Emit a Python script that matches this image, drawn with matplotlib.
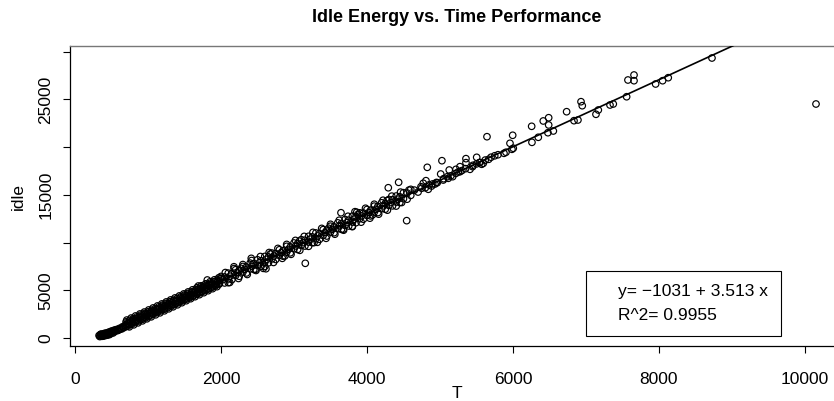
import matplotlib.pyplot as plt
from matplotlib.patches import Rectangle

plt.rcParams['font.family'] = ['Liberation Sans', 'DejaVu Sans']

# low-end cluster
low_T = [330, 345, 360, 375, 390, 405, 420, 435, 450, 465, 480, 500, 520, 540, 560, 585, 610, 640, 670, 700,
         350, 370, 390, 410, 430, 455, 480, 510, 540, 575, 610, 650, 690,
         340, 355, 370, 385, 400, 415, 430, 445, 460, 475, 490, 520, 560, 600, 630, 660]
low_idle = [260, 250, 330, 290, 380, 320, 430, 360, 500, 420, 560, 600, 660, 640, 760, 780, 900, 950, 1080, 1200,
            380, 180, 240, 470, 300, 560, 470, 740, 830, 900, 1010, 1170, 1330,
            150, 380, 400, 200, 470, 250, 520, 300, 600, 360, 690, 520, 840, 850, 1000, 1120]

# dense band 700 - 2000
band_T = [720, 760, 800, 840, 880, 920, 960, 1000, 1040, 1080, 1120, 1160, 1200, 1240, 1280, 1320, 1360,
          1400, 1440, 1480, 1520, 1560, 1600, 1640, 1680, 1720, 1760, 1800, 1840, 1880, 1920, 1960, 2000,
          740, 780, 820, 860, 900, 940, 980, 1020, 1060, 1100, 1140, 1180, 1220, 1260, 1300, 1340,
          1380, 1420, 1460, 1500, 1540, 1580, 1620, 1660, 1700, 1740, 1780, 1820, 1860, 1900, 1940, 1980,
          730, 810, 890, 970, 1050, 1130, 1210, 1290, 1370, 1450, 1530, 1610, 1690, 1770, 1850, 1930,
          700, 750, 800, 850, 900, 950, 1000, 1050, 1100, 1150, 1200, 1250, 1300, 1350, 1400, 1450,
          1500, 1550, 1600, 1650, 1700, 1750, 1800, 1850, 1900, 1950, 2000,
          725, 775, 825, 875, 925, 975, 1025, 1075, 1125, 1175, 1225, 1275, 1325, 1375, 1425, 1475,
          1525, 1575, 1625, 1675, 1725, 1775, 1825, 1875, 1925, 1975,
          710, 770, 830, 890, 950, 1010, 1070, 1130, 1190, 1250, 1310, 1370, 1430, 1490, 1550, 1610,
          1670, 1730, 1790, 1850, 1910, 1970,
          745, 805, 865, 925, 985, 1045, 1105, 1165, 1225, 1285, 1345, 1405, 1465, 1525, 1585, 1645,
          1705, 1765, 1825, 1885, 1945]
band_idle = [1620, 1700, 1930, 2010, 2200, 2290, 2480, 2570, 2760, 2850, 3050, 3120, 3330, 3400, 3610, 3680, 3900,
             3960, 4180, 4240, 4470, 4520, 4760, 4800, 5050, 5080, 5330, 5370, 5600, 5640, 5900, 5930, 6200,
             1430, 1560, 1720, 1850, 1990, 2100, 2270, 2400, 2540, 2700, 2820, 2980, 3100, 3260, 3380, 3530,
             3650, 3800, 3930, 4060, 4210, 4340, 4490, 4620, 4760, 4900, 5040, 5180, 5330, 5460, 5600, 5740,
             1540, 1800, 2110, 2370, 2680, 2930, 3240, 3490, 3800, 4050, 4370, 4610, 4930, 5170, 5500, 5740,
             1690, 1860, 2040, 2210, 2390, 2570, 2740, 2920, 3090, 3270, 3440, 3620, 3800, 3970, 4150, 4320,
             4500, 4670, 4850, 5030, 5200, 5380, 5550, 5730, 5900, 6080, 6260,
             1260, 1430, 1610, 1780, 1960, 2130, 2310, 2490, 2660, 2840, 3010, 3190, 3360, 3540, 3710, 3890,
             4070, 4240, 4420, 4590, 4770, 4950, 5120, 5300, 5470, 5650,
             1880, 2090, 2310, 2520, 2720, 2940, 3150, 3360, 3570, 3780, 3990, 4200, 4410, 4620, 4830, 5050,
             5260, 5470, 5680, 5890, 6100, 6310,
             1170, 1380, 1590, 1800, 2010, 2220, 2430, 2640, 2850, 3060, 3270, 3480, 3700, 3910, 4120, 4330,
             4540, 4750, 4960, 5170, 5380]

# band 2000 - 4700
mid_T = [2050, 2150, 2250, 2350, 2450, 2550, 2650, 2750, 2850, 2950, 3050, 3150, 3250, 3350, 3450, 3550,
         3650, 3750, 3850, 3950, 4050, 4150, 4250, 4350, 4450, 4550, 4650,
         2100, 2200, 2300, 2400, 2500, 2600, 2700, 2800, 2900, 3000, 3100, 3200, 3300, 3400, 3500, 3600,
         3700, 3800, 3900, 4000, 4100, 4200, 4300, 4400, 4500, 4600, 4700,
         2025, 2125, 2225, 2325, 2425, 2525, 2625, 2725, 2825, 2925, 3025, 3125, 3225, 3325, 3425, 3525,
         3625, 3725, 3825, 3925, 4025, 4125, 4225, 4325, 4425,
         2275, 2675, 3075, 3475, 3875, 4275, 4575,
         2475, 2875, 3275, 3675, 4075, 4475,
         2000, 2100, 2200, 2300, 2400, 2500, 2600, 2700, 2800, 2900, 3000, 3100, 3200, 3300, 3400, 3500,
         3600, 3700, 3800, 3900, 4000, 4100, 4200, 4300, 4400, 4500, 4600,
         2050, 2150, 2250, 2350, 2450, 2550, 2650, 2750, 2850, 2950, 3050, 3150, 3250, 3350, 3450, 3550,
         3650, 3750, 3850, 3950, 4050, 4150, 4250, 4350, 4450, 4550,
         2060, 2180, 2300, 2420, 2540, 2660, 2780, 2900, 3020, 3140, 3260, 3380, 3500, 3620, 3740, 3860,
         3980, 4100, 4220, 4340, 4460,
         2120, 2240, 2360, 2480, 2600, 2720, 2840, 2960, 3080, 3200, 3320, 3440, 3560, 3680, 3800, 3920,
         4040, 4160, 4280, 4400]
mid_idle = [6400, 6750, 7050, 7450, 7800, 8100, 8500, 8850, 9150, 9550, 9900, 10250, 10600, 10950, 11300, 11650,
            12000, 12350, 12700, 13100, 13400, 13800, 14100, 14500, 14800, 15200, 15500,
            6200, 6550, 6900, 7250, 7600, 7950, 8300, 8650, 9000, 9350, 9700, 10050, 10400, 10750, 11100, 11450,
            11800, 12150, 12500, 12850, 13200, 13550, 13900, 14250, 14600, 14950, 15300,
            6130, 6480, 6830, 7190, 7530, 7890, 8240, 8600, 8940, 9300, 9650, 10000, 10350, 10700, 11050, 11400,
            11760, 12100, 12450, 12800, 13150, 13500, 13850, 14200, 14550,
            7300, 8800, 10150, 11500, 12950, 14400, 15500,
            7200, 8600, 10000, 11400, 12900, 14200,
            6450, 6800, 7150, 7500, 7850, 8200, 8550, 8900, 9250, 9610, 9960, 10310, 10660, 11010, 11360, 11720,
            12070, 12420, 12770, 13120, 13470, 13820, 14170, 14520, 14880, 15230, 15580,
            5770, 6120, 6470, 6820, 7180, 7530, 7880, 8230, 8580, 8930, 9280, 9640, 9990, 10340, 10690, 11040,
            11390, 11740, 12090, 12450, 12800, 13150, 13500, 13850, 14200, 14550,
            6860, 7280, 7700, 8120, 8540, 8960, 9390, 9810, 10230, 10650, 11070, 11490, 11920, 12340, 12760, 13180,
            13600, 14020, 14440, 14870, 15290,
            5820, 6240, 6660, 7080, 7500, 7920, 8350, 8770, 9190, 9610, 10030, 10450, 10880, 11300, 11720, 12140,
            12560, 12980, 13400, 13830]

# scattered points off the band
off_T = [1690, 1813, 2100, 2178, 2415, 2616, 2580, 3155, 3644, 3836, 3799, 4434, 4292, 4544]
off_idle = [5450, 6080, 5800, 7470, 8350, 7260, 7300, 7830, 13130, 13240, 11670, 16320, 15750, 12300]

# upper range 4700 - 10200
high_T = [4740, 4771, 4808, 4826, 4840, 4886, 4932, 4963, 5010, 5027, 5045, 5114, 5127, 5174,
          5219, 5219, 5274, 5274, 5356, 5356, 5411, 5447, 5503, 5538, 5571, 5593, 5644, 5667,
          5795, 5877, 5904, 5959, 5986, 5996, 6004, 6256, 6260, 6347, 6415, 6479, 6489, 6489, 6553,
          6735, 6836, 6890, 6932, 6949, 7137, 7169, 7329, 7374, 7557, 7575, 7658, 7658,
          7954, 8050, 8127, 8726, 10151,
          4750, 4800, 4850, 4900, 4950, 5050, 5100, 5150, 5250, 5300, 5350, 5450, 5500, 5550,
          5620, 5700, 5750]
high_idle = [15860, 16220, 16490, 17890, 15590, 15930, 16140, 16280, 17190, 18585, 16560, 16740, 17610, 16910,
             17680, 17260, 17960, 17430, 18800, 18380, 17680, 17960, 18940, 18380, 18210, 18310, 21100, 18730,
             19210, 19360, 19470, 20410, 19780, 21250, 19890, 22190, 20510, 21040, 22750, 21520, 22330, 23090, 21700,
             23720, 22780, 22850, 24770, 24350, 23450, 23900, 24423, 24528, 25290, 27044, 27568, 26970,
             26625, 26970, 27285, 29350, 24528,
             15700, 15750, 16050, 16150, 16300, 16700, 16900, 17000, 17400, 17550, 17750, 18100, 18250, 18400,
             18650, 18950, 19100]

T = low_T + band_T + mid_T + off_T + high_T
idle = low_idle + band_idle + mid_idle + off_idle + high_idle

# fit
intercept = -1031
slope = 3.513
r2 = 0.9955

fig = plt.figure(figsize=(8.34, 4.01), dpi=100)
ax = fig.add_axes([70 / 834, 1 - 346 / 401, 776 / 834, 300 / 401])

ax.scatter(T, idle, s=22, facecolors='none', edgecolors='black', linewidths=0.85, zorder=2)
# fitted line over the range of T
x_fit = [min(T), max(T)]
ax.plot(x_fit, [intercept + slope * v for v in x_fit], color='black', lw=1.2, zorder=3)

ax.set_xlim(-68, 10562)
ax.set_ylim(-839, 30608)

ax.set_xticks([0, 2000, 4000, 6000, 8000, 10000])
ax.set_yticks([0, 5000, 10000, 15000, 20000, 25000, 30000])
ax.set_yticklabels(['0', '5000', '', '15000', '', '25000', ''], rotation=90, va='center')
ax.tick_params(axis='both', length=5, width=0.8, labelsize=12.5)
ax.tick_params(axis='x', pad=14)
ax.tick_params(axis='y', pad=7)

for side in ['left', 'bottom']:
    ax.spines[side].set_linewidth(0.9)
ax.spines['top'].set_color('#777777')
ax.spines['top'].set_linewidth(1.0)
ax.spines['right'].set_visible(False)

# legend box with fit text
ax.add_patch(Rectangle((0.6646, 0.0333), 0.2516, 0.2157, transform=ax.transAxes,
                       facecolor='white', edgecolor='black', lw=0.8, zorder=4))
ax.text(0.7062, 0.181, f'y= \u22121031 + {slope} x', transform=ax.transAxes,
        fontsize=12.5, va='center', ha='left', zorder=5)
ax.text(0.7062, 0.103, f'R^2= {r2}', transform=ax.transAxes,
        fontsize=12.5, va='center', ha='left', zorder=5)

fig.text(457 / 834, 1 - 18 / 401, 'Idle Energy vs. Time Performance', fontsize=13,
         fontweight='bold', ha='center', va='center')
fig.text(457 / 834, 1 - 393 / 401, 'T', fontsize=12.5, ha='center', va='center')
fig.text(18 / 834, 1 - 197 / 401, 'idle', fontsize=12.5, rotation=90, ha='center', va='center')

plt.savefig('out.png', dpi=100)
